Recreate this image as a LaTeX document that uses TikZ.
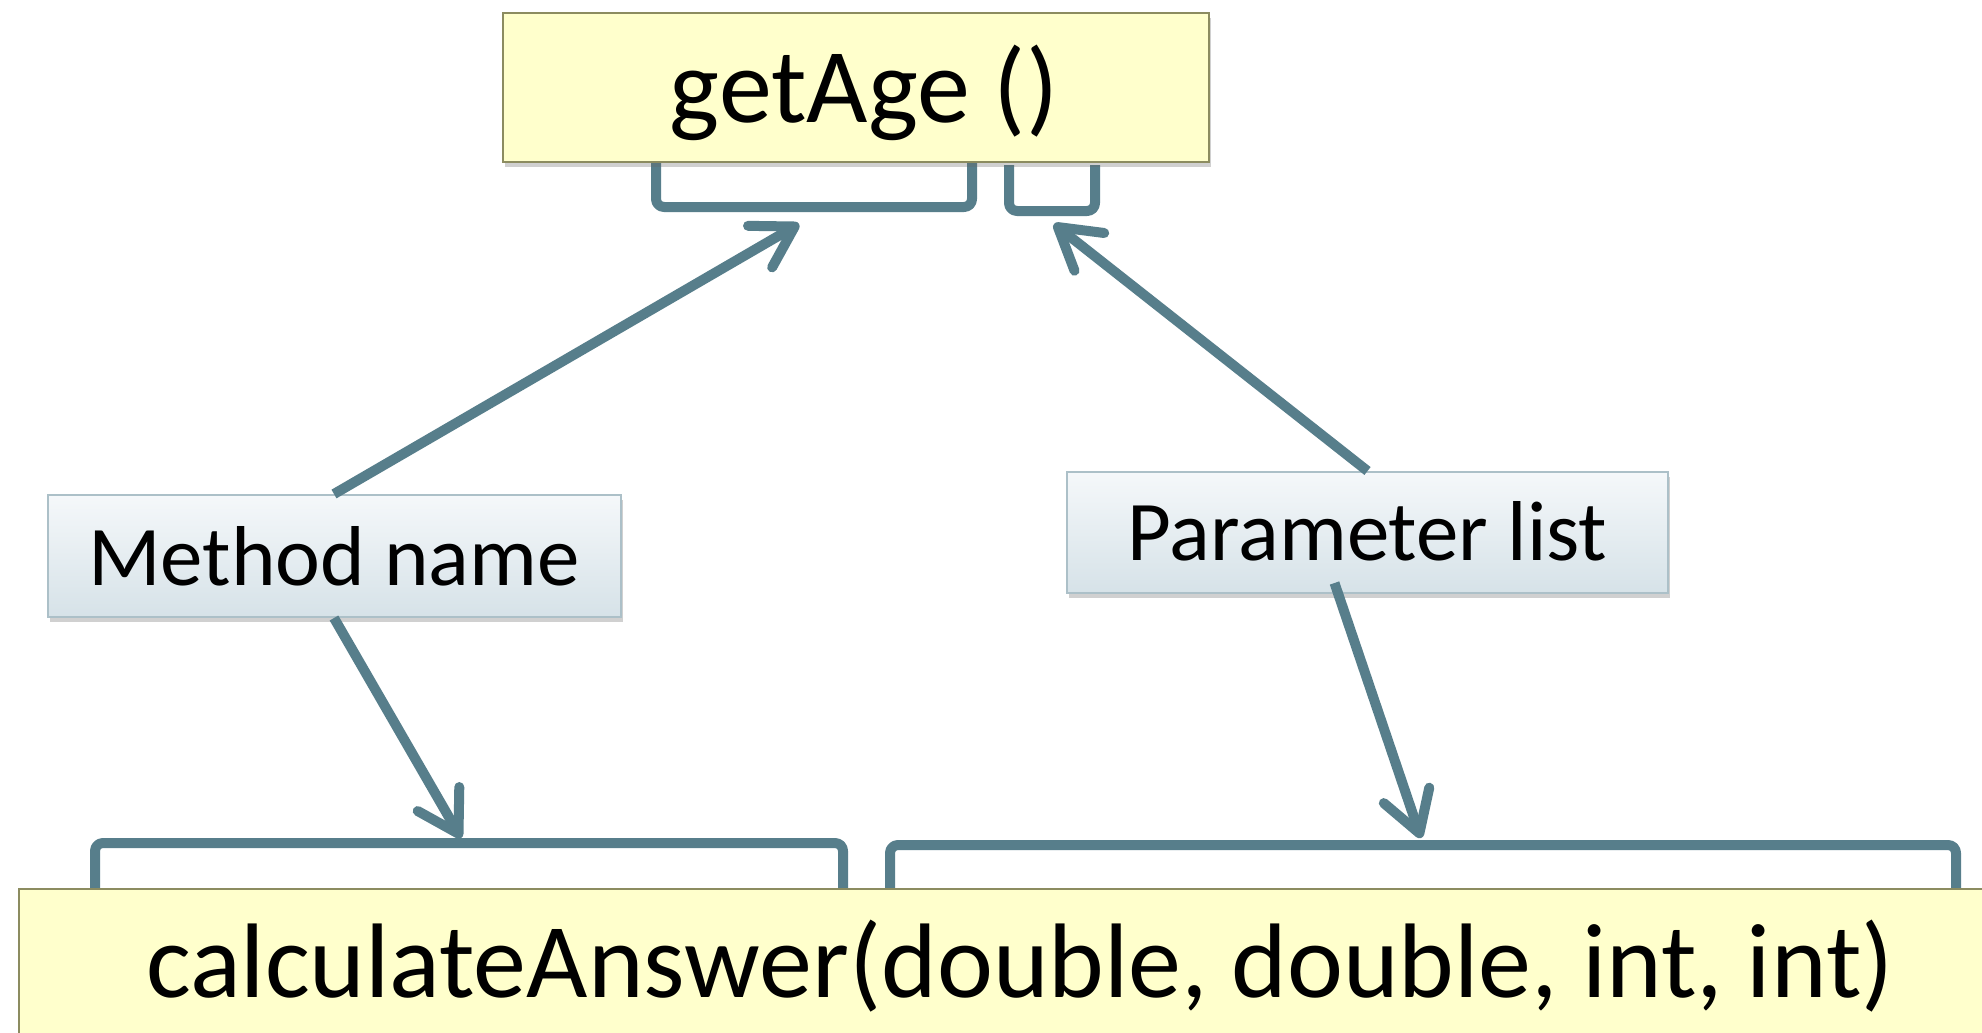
\documentclass[tikz,border=0pt]{standalone}
\usepackage{fontspec}
\setmainfont{Carlito}
\usetikzlibrary{arrows.meta,shadows,calc}

\definecolor{linkblue}{RGB}{87,126,139}
\definecolor{noteyellow}{RGB}{255,255,204}
\definecolor{noteedge}{RGB}{140,140,96}
\definecolor{tagtop}{RGB}{245,248,250}
\definecolor{tagbottom}{RGB}{214,226,232}
\definecolor{tagedge}{RGB}{172,192,200}

\tikzset{
  softshadow/.style={drop shadow={shadow xshift=2pt,shadow yshift=-5pt,opacity=0.3,fill=black!60}},
  codebox/.style={draw=noteedge, line width=2pt, fill=noteyellow, inner sep=0pt,
    font=\fontsize{106}{120}\selectfont, text depth=0pt, softshadow},
  tagbox/.style={draw=tagedge, line width=2pt, top color=tagtop, bottom color=tagbottom,
    inner sep=0pt, font=\fontsize{85}{100}\selectfont, text depth=0pt, softshadow},
  brace/.style={draw=linkblue, line width=10pt, rounded corners=8pt, line join=round},
  pointer/.style={draw=linkblue, line width=10pt,
    -{Straight Barb[length=40pt,width=48pt,round]}},
}

\begin{document}
\begin{tikzpicture}[x=1pt,y=-1pt]
  \clip (0,0) rectangle (1982,1033);
  \fill[white] (0,0) rectangle (1982,1033);

  % brackets under the short signature
  \draw[brace] (656,150) -- (656,207) -- (972,207) -- (972,150);
  \draw[brace] (1009,165) -- (1009,211) -- (1095,211) -- (1095,165);
  % brackets over the long signature
  \draw[brace] (95,900) -- (95,843) -- (843,843) -- (843,900);
  \draw[brace] (890,900) -- (890,845) -- (1956,845) -- (1956,900);

  % signatures
  \node[codebox, minimum width=706pt, minimum height=149pt, text height=69pt]
    (getage) at (856,87.5) {\hspace*{16pt}getAge ()};
  \node[codebox, minimum width=2002pt, minimum height=210pt, text height=7pt]
    (calc) at (1020,994) {calculateAnswer(double, double, int, int)};

  % labels
  \node[tagbox, minimum width=573pt, minimum height=122pt, text height=58pt]
    (mname) at (334,556) {Method name};
  \node[tagbox, minimum width=601pt, minimum height=121pt, text height=56pt]
    (plist) at (1367.5,532.5) {Parameter list};

  % arrow targets on the brackets
  \coordinate (nameTip) at (799,224);
  \coordinate (listTip) at (1054,224);
  \coordinate (nameDown) at (461,838);
  \coordinate (listDown) at (1421,838);

  \draw[pointer] (mname.north) -- (nameTip);
  \draw[pointer] (plist.north) -- (listTip);
  \draw[pointer] (mname.south) -- (nameDown);
  \draw[pointer] ($(plist.south)+(-33,-11)$) -- (listDown);
\end{tikzpicture}
\end{document}
